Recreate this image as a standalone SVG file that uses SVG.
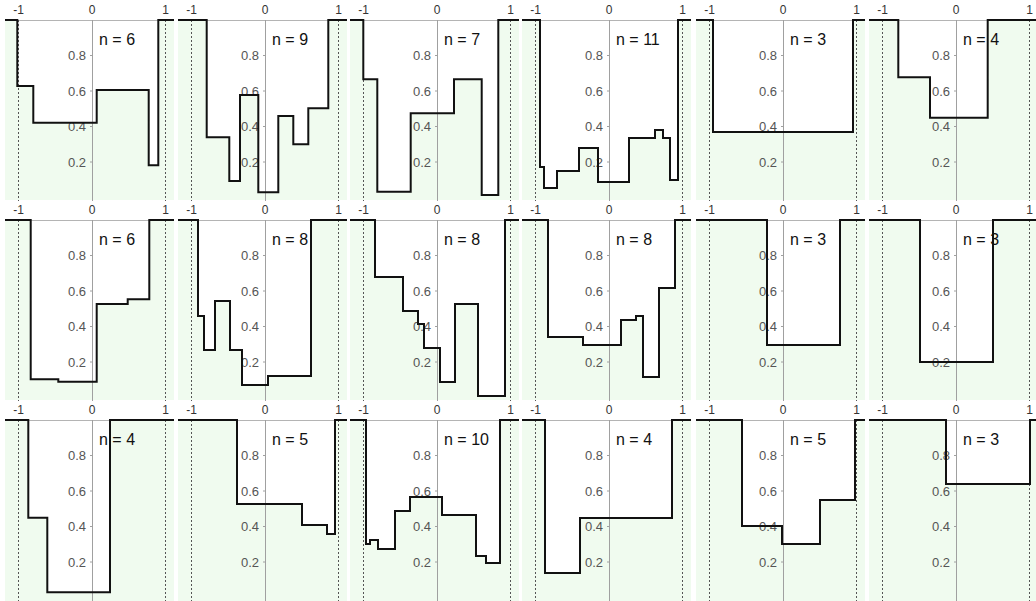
<svg xmlns="http://www.w3.org/2000/svg" xmlns:xlink="http://www.w3.org/1999/xlink" width="1036" height="601" viewBox="0 0 1036 601">
<style>
.bg{fill:#f0fbef}
.fl{fill:#fff;stroke:none}
.top{stroke:#b4b4b4;stroke-width:1}
.zero{stroke:#a0a0a0;stroke-width:1}
.dot{stroke:#555;stroke-width:1;stroke-dasharray:2 2}
.cv{fill:none;stroke:#111;stroke-width:2}
text{font-family:"Liberation Sans",Arial,sans-serif}
.xl{font-size:12px;fill:#333;text-anchor:middle}
.yl{font-size:13px;fill:#555;text-anchor:end}
.n{font-size:16px;fill:#111}
</style>
<defs>
<g id="frame">
<line class="top" x1="-87" y1="0.5" x2="82" y2="0.5"/>
<line class="zero" x1="0.5" y1="0" x2="0.5" y2="181"/>
<line class="zero" x1="-2" y1="35.5" x2="0" y2="35.5"/>
<line class="zero" x1="-2" y1="71" x2="0" y2="71"/>
<line class="zero" x1="-2" y1="106.5" x2="0" y2="106.5"/>
<line class="zero" x1="-2" y1="142" x2="0" y2="142"/>
<line class="dot" x1="-73.5" y1="0" x2="-73.5" y2="181"/>
<line class="dot" x1="73.5" y1="0" x2="73.5" y2="181"/>
<text class="xl" x="-73.5" y="-6">-1</text>
<text class="xl" x="0" y="-6">0</text>
<text class="xl" x="73.5" y="-6">1</text>
<text class="yl" x="-6" y="40">0.8</text>
<text class="yl" x="-6" y="75.5">0.6</text>
<text class="yl" x="-6" y="111">0.4</text>
<text class="yl" x="-6" y="146.5">0.2</text>
</g>
<path id="c11" d="M-87,0 H-74.7 V66 H-58.7 V102.7 H4.7 V70 H56.7 V145.3 H66.3 V0 H82"/>
<path id="c12" d="M-87,0 H-58.3 V117.3 H-35.7 V161 H-25 V75 H-6.7 V172.3 H13.3 V96 H28.3 V124.3 H43.3 V88.3 H63.3 V0 H82"/>
<path id="c13" d="M-87,0 H-73.7 V59.3 H-59.7 V171.7 H-26.3 V93.3 H17 V59.3 H44.7 V175 H61.3 V0 H82"/>
<path id="c14" d="M-87,0 H-69 V147 H-65 V168 H-52 V151 H-30 V128 H-11 V162 H20 V118 H46 V110 H54 V118 H61 V160 H69 V0 H82"/>
<path id="c15" d="M-87,0 H-70 V112 H70 V0 H82"/>
<path id="c16" d="M-87,0 H-57.7 V57.3 H-26 V97.7 H31.7 V0 H82"/>
<path id="c21" d="M-87,0 H-61.3 V159.3 H-33.7 V161.7 H4.7 V84 H35.7 V79.3 H57.3 V0 H82"/>
<path id="c22" d="M-87,0 H-67 V96 H-61 V130 H-50 V81 H-35 V130 H-23 V165 H3 V156 H46 V0 H82"/>
<path id="c23" d="M-87,0 H-62 V57 H-34 V91 H-19 V104 H-13 V128 H3 V162 H18 V84 H41 V176 H68 V0 H82"/>
<path id="c24" d="M-87,0 H-61 V117 H-26 V125 H12 V100 H27 V96 H34 V157 H50 V68 H66 V0 H82"/>
<path id="c25" d="M-87,0 H-16 V125 H57 V0 H82"/>
<path id="c26" d="M-87,0 H-36 V142 H37 V0 H82"/>
<path id="c31" d="M-87,0 H-63.7 V97.7 H-44.7 V172.3 H18 V0 H82"/>
<path id="c32" d="M-87,0 H-28 V84 H37 V105 H62 V114 H70 V0 H82"/>
<path id="c33" d="M-87,0 H-71 V124 H-67 V120 H-59 V129 H-42 V91 H-27 V77 H5 V95 H39 V136 H49 V143 H63 V0 H82"/>
<path id="c34" d="M-87,0 H-64 V153 H-29 V98 H63 V0 H82"/>
<path id="c35" d="M-87,0 H-41 V106 H-1 V124 H37 V80 H72 V0 H82"/>
<path id="c36" d="M-87,0 H-10 V64 H74 V0 H82"/>
</defs>

<g id="panel-r1c1" transform="translate(92,20)"><rect class="bg" x="-87" y="0" width="169" height="180"/><use xlink:href="#c11" class="fl"/><use xlink:href="#frame"/><text class="n" x="7" y="25">n = 6</text><use xlink:href="#c11" class="cv"/></g>
<g id="panel-r1c2" transform="translate(265,20)"><rect class="bg" x="-87" y="0" width="169" height="180"/><use xlink:href="#c12" class="fl"/><use xlink:href="#frame"/><text class="n" x="7" y="25">n = 9</text><use xlink:href="#c12" class="cv"/></g>
<g id="panel-r1c3" transform="translate(437,20)"><rect class="bg" x="-87" y="0" width="169" height="180"/><use xlink:href="#c13" class="fl"/><use xlink:href="#frame"/><text class="n" x="7" y="25">n = 7</text><use xlink:href="#c13" class="cv"/></g>
<g id="panel-r1c4" transform="translate(609,20)"><rect class="bg" x="-87" y="0" width="169" height="180"/><use xlink:href="#c14" class="fl"/><use xlink:href="#frame"/><text class="n" x="7" y="25">n = 11</text><use xlink:href="#c14" class="cv"/></g>
<g id="panel-r1c5" transform="translate(783,20)"><rect class="bg" x="-87" y="0" width="169" height="180"/><use xlink:href="#c15" class="fl"/><use xlink:href="#frame"/><text class="n" x="7" y="25">n = 3</text><use xlink:href="#c15" class="cv"/></g>
<g id="panel-r1c6" transform="translate(956,20)"><rect class="bg" x="-87" y="0" width="169" height="180"/><use xlink:href="#c16" class="fl"/><use xlink:href="#frame"/><text class="n" x="7" y="25">n = 4</text><use xlink:href="#c16" class="cv"/></g>

<g id="panel-r2c1" transform="translate(92,220)"><rect class="bg" x="-87" y="0" width="169" height="180"/><use xlink:href="#c21" class="fl"/><use xlink:href="#frame"/><text class="n" x="7" y="25">n = 6</text><use xlink:href="#c21" class="cv"/></g>
<g id="panel-r2c2" transform="translate(265,220)"><rect class="bg" x="-87" y="0" width="169" height="180"/><use xlink:href="#c22" class="fl"/><use xlink:href="#frame"/><text class="n" x="7" y="25">n = 8</text><use xlink:href="#c22" class="cv"/></g>
<g id="panel-r2c3" transform="translate(437,220)"><rect class="bg" x="-87" y="0" width="169" height="180"/><use xlink:href="#c23" class="fl"/><use xlink:href="#frame"/><text class="n" x="7" y="25">n = 8</text><use xlink:href="#c23" class="cv"/></g>
<g id="panel-r2c4" transform="translate(609,220)"><rect class="bg" x="-87" y="0" width="169" height="180"/><use xlink:href="#c24" class="fl"/><use xlink:href="#frame"/><text class="n" x="7" y="25">n = 8</text><use xlink:href="#c24" class="cv"/></g>
<g id="panel-r2c5" transform="translate(783,220)"><rect class="bg" x="-87" y="0" width="169" height="180"/><use xlink:href="#c25" class="fl"/><use xlink:href="#frame"/><text class="n" x="7" y="25">n = 3</text><use xlink:href="#c25" class="cv"/></g>
<g id="panel-r2c6" transform="translate(956,220)"><rect class="bg" x="-87" y="0" width="169" height="180"/><use xlink:href="#c26" class="fl"/><use xlink:href="#frame"/><text class="n" x="7" y="25">n = 3</text><use xlink:href="#c26" class="cv"/></g>

<g id="panel-r3c1" transform="translate(92,420)"><rect class="bg" x="-87" y="0" width="169" height="181"/><use xlink:href="#c31" class="fl"/><use xlink:href="#frame"/><text class="n" x="7" y="25">n = 4</text><use xlink:href="#c31" class="cv"/></g>
<g id="panel-r3c2" transform="translate(265,420)"><rect class="bg" x="-87" y="0" width="169" height="181"/><use xlink:href="#c32" class="fl"/><use xlink:href="#frame"/><text class="n" x="7" y="25">n = 5</text><use xlink:href="#c32" class="cv"/></g>
<g id="panel-r3c3" transform="translate(437,420)"><rect class="bg" x="-87" y="0" width="169" height="181"/><use xlink:href="#c33" class="fl"/><use xlink:href="#frame"/><text class="n" x="7" y="25">n = 10</text><use xlink:href="#c33" class="cv"/></g>
<g id="panel-r3c4" transform="translate(609,420)"><rect class="bg" x="-87" y="0" width="169" height="181"/><use xlink:href="#c34" class="fl"/><use xlink:href="#frame"/><text class="n" x="7" y="25">n = 4</text><use xlink:href="#c34" class="cv"/></g>
<g id="panel-r3c5" transform="translate(783,420)"><rect class="bg" x="-87" y="0" width="169" height="181"/><use xlink:href="#c35" class="fl"/><use xlink:href="#frame"/><text class="n" x="7" y="25">n = 5</text><use xlink:href="#c35" class="cv"/></g>
<g id="panel-r3c6" transform="translate(956,420)"><rect class="bg" x="-87" y="0" width="169" height="181"/><use xlink:href="#c36" class="fl"/><use xlink:href="#frame"/><text class="n" x="7" y="25">n = 3</text><use xlink:href="#c36" class="cv"/></g>
</svg>
